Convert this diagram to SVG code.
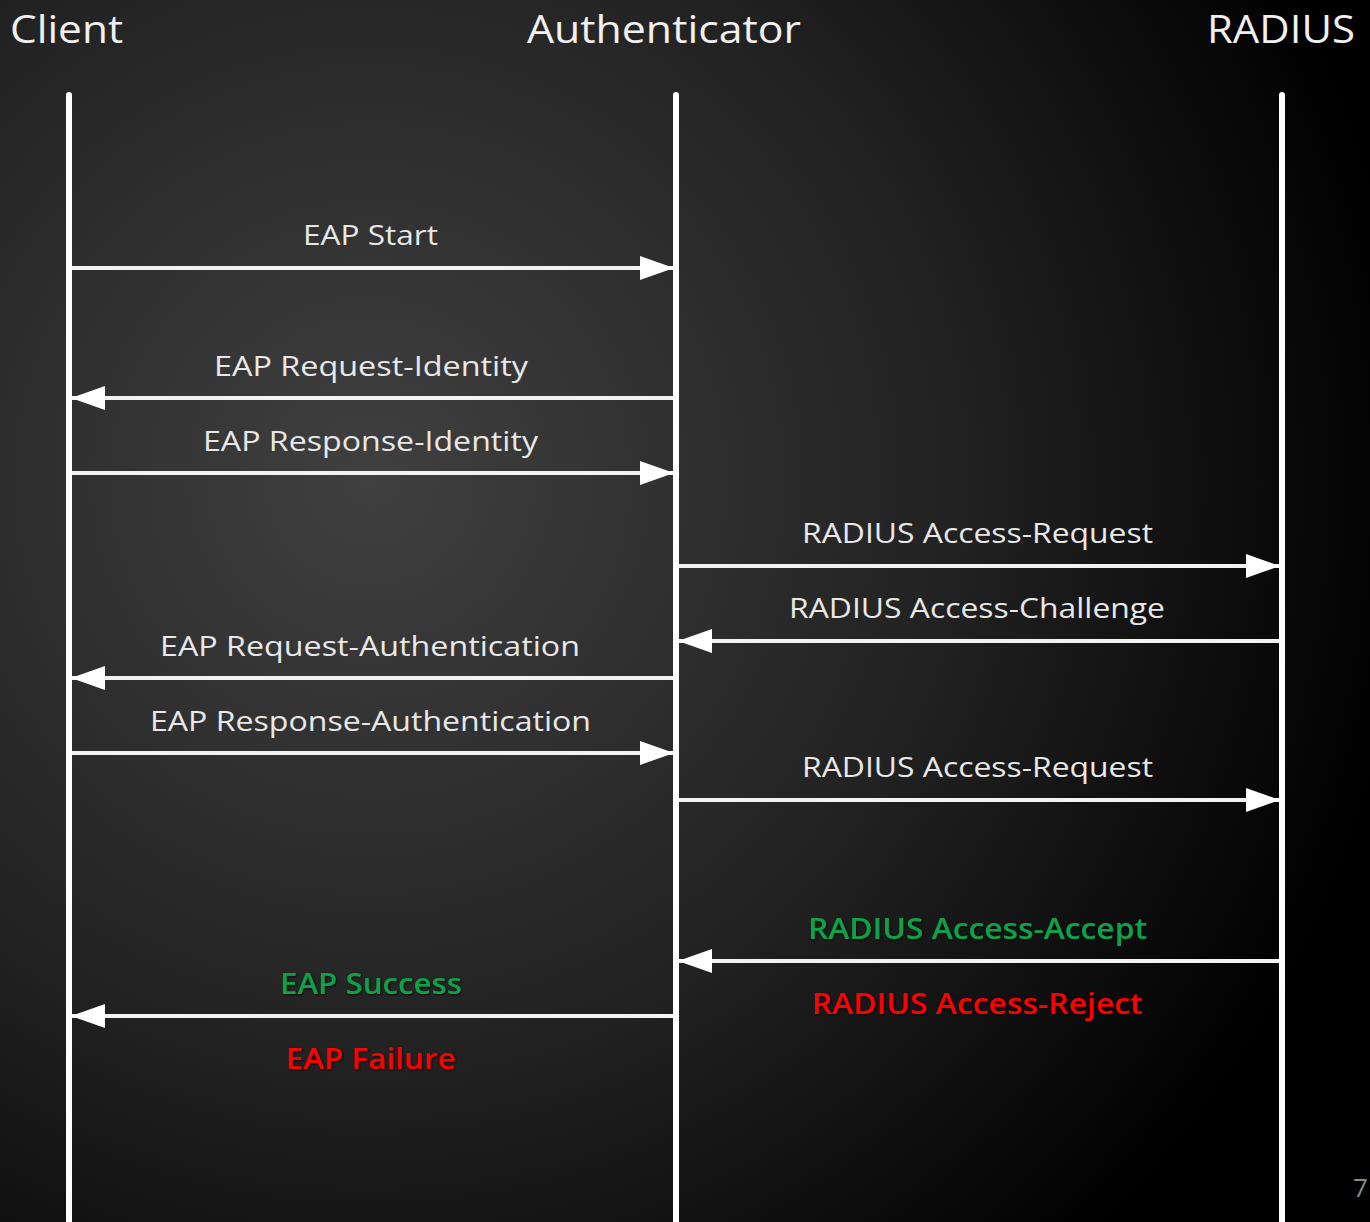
<svg xmlns="http://www.w3.org/2000/svg" width="1370" height="1222" viewBox="0 0 1370 1222">
<defs>
<radialGradient id="bg" cx="370" cy="480" r="1050" gradientUnits="userSpaceOnUse">
<stop offset="0" stop-color="#404040"/>
<stop offset="0.55" stop-color="#222"/>
<stop offset="1" stop-color="#000"/>
</radialGradient>
<marker id="ah" viewBox="0 0 34 24" refX="33" refY="12" markerWidth="34" markerHeight="24" markerUnits="userSpaceOnUse" orient="auto">
<path d="M0,0 L34,12 L0,24 Z" fill="#fff"/>
</marker>
<filter id="sh" x="-10%" y="-30%" width="120%" height="160%">
<feDropShadow dx="1" dy="1" stdDeviation="1" flood-color="#000" flood-opacity="0.9"/>
</filter>
</defs>
<style>
.life{stroke:#fff;stroke-width:6;stroke-linecap:round}
.msg{stroke:#f2f2f2;stroke-width:4;fill:none;marker-end:url(#ah)}
text{font-family:"Open Sans","Liberation Sans",sans-serif}
.t{font-size:39px;fill:#f0f0f0}
.l{font-size:28px;fill:#e8e8e8;text-anchor:middle}
.g{fill:#0ca14a;font-weight:600;filter:url(#sh)}
.r{fill:#ff0000;font-weight:600;filter:url(#sh)}
</style>
<rect width="1370" height="1222" fill="url(#bg)"/>
<g id="client">
<text class="t" x="10" y="43" textLength="113" lengthAdjust="spacingAndGlyphs">Client</text>
<line class="life" x1="69" y1="95" x2="69" y2="1225"/>
</g>
<g id="authenticator">
<text class="t" x="527" y="43" textLength="274" lengthAdjust="spacingAndGlyphs">Authenticator</text>
<line class="life" x1="676" y1="95" x2="676" y2="1225"/>
</g>
<g id="radius">
<text class="t" x="1207" y="43" textLength="148" lengthAdjust="spacingAndGlyphs">RADIUS</text>
<line class="life" x1="1282" y1="95" x2="1282" y2="1225"/>
</g>
<g id="connectors">
<line class="msg" x1="72" y1="268" x2="673" y2="268"/>
<line class="msg" x1="673" y1="398" x2="72" y2="398"/>
<line class="msg" x1="72" y1="473" x2="673" y2="473"/>
<line class="msg" x1="679" y1="566" x2="1279" y2="566"/>
<line class="msg" x1="1279" y1="641" x2="679" y2="641"/>
<line class="msg" x1="673" y1="678" x2="72" y2="678"/>
<line class="msg" x1="72" y1="753" x2="673" y2="753"/>
<line class="msg" x1="679" y1="800" x2="1279" y2="800"/>
<line class="msg" x1="1279" y1="961" x2="679" y2="961"/>
<line class="msg" x1="673" y1="1016" x2="72" y2="1016"/>
</g>
<g id="labels">
<text class="l" x="370.5" y="245" textLength="135" lengthAdjust="spacingAndGlyphs">EAP Start</text>
<text class="l" x="371" y="376" textLength="314" lengthAdjust="spacingAndGlyphs">EAP Request-Identity</text>
<text class="l" x="370.5" y="451" textLength="335" lengthAdjust="spacingAndGlyphs">EAP Response-Identity</text>
<text class="l" x="977.5" y="543" textLength="351" lengthAdjust="spacingAndGlyphs">RADIUS Access-Request</text>
<text class="l" x="977" y="618" textLength="376" lengthAdjust="spacingAndGlyphs">RADIUS Access-Challenge</text>
<text class="l" x="370" y="656" textLength="420" lengthAdjust="spacingAndGlyphs">EAP Request-Authentication</text>
<text class="l" x="370.5" y="731" textLength="441" lengthAdjust="spacingAndGlyphs">EAP Response-Authentication</text>
<text class="l" x="977.5" y="777" textLength="351" lengthAdjust="spacingAndGlyphs">RADIUS Access-Request</text>
<text class="l g" x="977.5" y="939" textLength="339" lengthAdjust="spacingAndGlyphs">RADIUS Access-Accept</text>
<text class="l r" x="977.5" y="1014" textLength="331" lengthAdjust="spacingAndGlyphs">RADIUS Access-Reject</text>
<text class="l g" x="371" y="994" textLength="182" lengthAdjust="spacingAndGlyphs">EAP Success</text>
<text class="l r" x="371" y="1069" textLength="170" lengthAdjust="spacingAndGlyphs">EAP Failure</text>
</g>
<text x="1353" y="1197" font-size="26" fill="#8a8a8a" font-family="Open Sans, sans-serif">7</text>
</svg>
